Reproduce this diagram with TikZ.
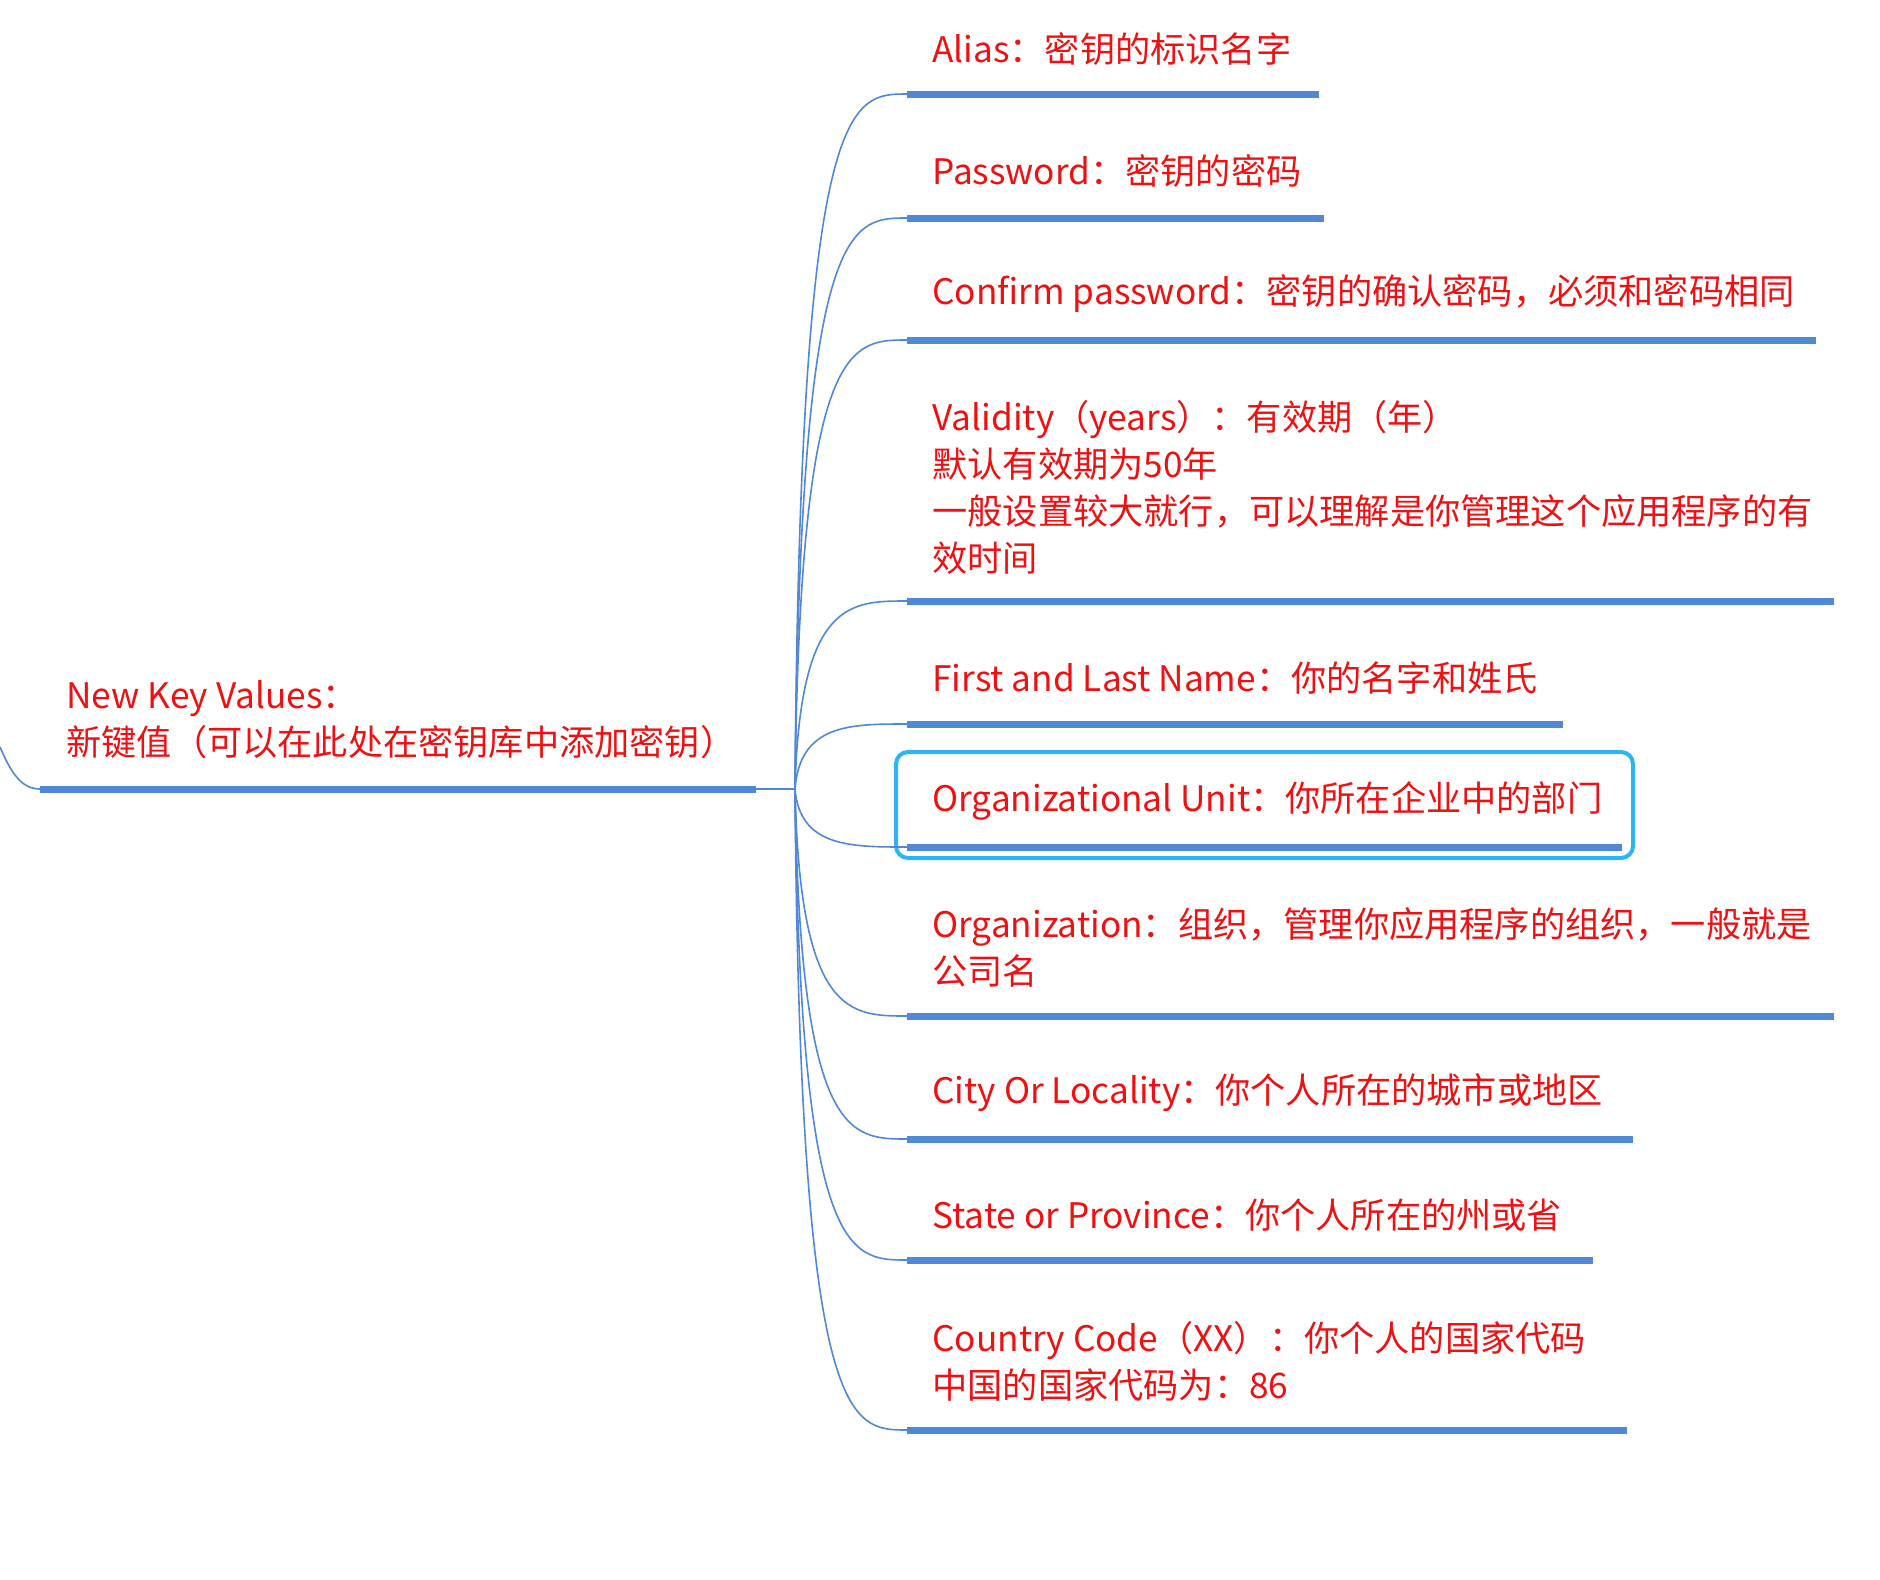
\documentclass[tikz,border=0pt]{standalone}
\usepackage{fontspec}
\setmainfont{Noto Sans CJK SC}
\definecolor{lblue}{HTML}{4F88D6}
\definecolor{tred}{HTML}{EE1111}
\definecolor{hl}{HTML}{2EB4F0}
\begin{document}
\begin{tikzpicture}[x=0.5pt,y=-0.5pt,
  txt/.style={anchor=west,text=tred,font=\fontsize{17.6pt}{23.5pt}\selectfont,align=left,inner sep=0pt},
  bar/.style={draw=lblue,line width=3.5pt},
  conn/.style={draw=lblue,line width=0.8pt}]
\useasboundingbox (0,0) rectangle (1880,1580);
\coordinate (J) at (795,789);
\coordinate (R0) at (40,789);
\coordinate (R1) at (756,789);
\draw[bar] (R0) -- (R1);
\draw[conn] (R1) -- (J);
\draw[conn] (0,747) .. controls (10,770) and (20,789) .. (R0);
\node[txt] (root) at (66,720) {New Key Values：\\新键值（可以在此处在密钥库中添加密钥）};
\draw[hl,line width=2pt,rounded corners=6pt] (896,752) rectangle (1633,858);
\foreach \n/\y/\e/\ty/\t in {
 a/94/1319/49/{Alias：密钥的标识名字},
 b/218/1324/171/{Password：密钥的密码},
 c/340/1816/294/{Confirm password：密钥的确认密码，必须和密码相同},
 d/601/1834/487/{Validity（years）：有效期（年）\\默认有效期为50年\\一般设置较大就行，可以理解是你管理这个应用程序的有\\效时间},
 e/724/1563/678/{First and Last Name：你的名字和姓氏},
 f/847/1622/801/{Organizational Unit：你所在企业中的部门},
 g/1016/1834/947/{Organization：组织，管理你应用程序的组织，一般就是\\公司名},
 h/1139/1633/1093/{City Or Locality：你个人所在的城市或地区},
 i/1260/1593/1215/{State or Province：你个人所在的州或省},
 k/1430/1627/1361/{Country Code（XX）：你个人的国家代码\\中国的国家代码为：86}}
{
 \coordinate (s\n) at (907,\y);
 \coordinate (t\n) at (\e,\y);
 \draw[bar] (s\n) -- (t\n);
 \draw[conn] (J) .. controls (800,\y) and (850,\y) .. (s\n);
 \node[txt] (l\n) at (932,\ty) {\t};
}
\end{tikzpicture}
\end{document}
